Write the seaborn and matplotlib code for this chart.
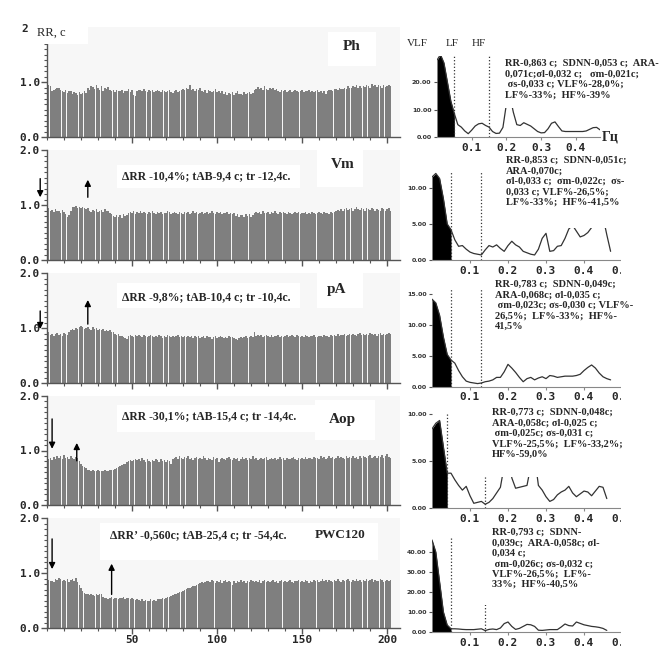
import numpy as np
import pandas as pd
import matplotlib
matplotlib.use("Agg")
import matplotlib.pyplot as plt
from matplotlib.patches import Rectangle
from matplotlib.ticker import MultipleLocator
import seaborn as sns

W, H = 670, 653

# RR intervals per beat, in hundredths of a second
rr_ph = [95, 93, 84, 85, 88, 90, 89, 85, 84, 82, 86,
         80, 83, 84, 79, 82, 80, 76, 82, 78, 80, 83, 80,
         90, 86, 93, 91, 88, 94, 90, 86, 92, 84, 90, 88, 91, 86,
         83, 85, 82, 86, 84, 83, 86, 80, 84, 83, 87, 82, 85, 77,
         75, 84, 86, 85, 83, 87, 84, 82, 86, 84, 85, 81, 83, 86, 84, 82, 85, 83, 81, 84, 86, 82, 80, 83, 85, 82, 84,
         86, 88, 85, 89, 87, 95, 86, 88, 84, 87, 85, 89,
         84, 82, 86, 80, 85, 83, 81, 84, 87, 82, 84, 80, 83,
         78, 82, 76, 80, 79, 81, 77, 80, 83, 78, 79, 76, 81, 78, 80, 82, 79, 80,
         86, 88, 91, 87, 90, 85, 92, 88, 86, 90, 87, 89, 85, 88,
         84, 82, 86, 83, 85, 81, 84, 86, 82, 83, 85, 84, 81, 83, 86, 82, 84, 83, 85, 82, 84, 81, 83, 85, 82, 84, 80, 83, 78,
         83, 85, 86, 84, 88, 87, 86, 89, 88, 87, 90, 88, 92, 90, 89, 93, 91, 94, 90, 92, 89, 93, 91, 95, 92, 90, 96, 93,
         94, 91, 95, 92, 90, 94, 91, 93, 95, 92]

rr_vm = [95, 90, 91, 88, 92, 89, 90, 86, 91, 88, 84, 78, 82,
         90, 97, 96, 98, 95, 97, 94, 96, 95, 93, 94,
         90, 88, 91, 89, 92, 87, 90, 91, 88, 92, 89, 90, 86,
         84, 80, 78, 82, 79, 81, 77, 83, 80, 82,
         86, 88, 85, 90, 84, 87, 86, 89, 85, 88, 86, 84, 87, 85, 89, 86, 83, 87, 85, 88, 84, 86, 85, 90, 87, 84, 86,
         88, 85, 83, 87, 86, 84, 88, 85, 87, 84, 86, 89, 85, 87, 84, 86, 88, 83, 85, 87, 84, 86, 90, 85, 83, 87, 85,
         88, 84, 86, 85, 87, 84, 86, 83, 85,
         80, 83, 79, 82, 81, 78, 83, 80, 84, 79, 82,
         86, 88, 85, 87, 84, 89, 86, 85, 88, 84, 87, 85, 90, 86, 84, 87, 85, 88, 86, 84, 87, 85, 83, 86, 88, 85, 87,
         84, 86, 85, 88, 84, 86, 83, 87, 85, 84, 86, 88, 85, 84, 87, 85, 86, 84, 88, 86,
         88, 90, 91, 89, 93, 90, 92, 95, 91, 93, 94, 90, 92, 96, 93, 91, 94, 92, 90, 95, 93, 91, 94, 92, 89, 93, 91,
         90, 94, 92, 89, 93, 95, 90]

rr_pa = [92, 88, 90, 85, 89, 91, 87, 90, 86, 91, 89, 88, 93,
         96, 98, 97, 100, 99, 102, 103, 101, 98, 100, 102, 99, 97, 101, 98, 100, 96, 99, 97, 98, 95, 97, 94, 96,
         93, 92, 90, 88, 89, 86, 85, 83, 82, 80,
         85, 88, 86, 84, 87, 85, 88, 86, 83, 87, 85, 84, 86, 88, 85, 83, 86, 84, 87, 85, 82, 86, 84, 88, 85, 83, 86,
         84, 85, 87, 83, 86, 84, 85, 83,
         86, 84, 85, 82, 86, 83, 85, 81, 84, 86, 82, 85, 83, 84, 80, 83, 85, 82, 84, 86, 83, 81, 84, 82, 85, 83, 84, 82,
         80, 78, 82, 84, 81, 83, 85, 82, 84, 86, 83,
         92, 86, 88, 85, 87, 84, 86, 88, 85, 83, 87, 84, 86, 85, 88, 84, 86, 83, 85, 87, 84, 86, 88, 85, 84, 87, 85,
         83, 86, 84, 88, 85, 84, 86, 85, 87, 84, 83, 86, 85, 84, 87, 85, 86, 84, 88, 86, 87, 85, 89, 86, 88, 87, 90,
         86, 88, 89, 87, 90, 88, 86, 89, 91, 87, 89, 88, 90, 87, 91, 89, 88, 90, 86, 89, 91, 88, 90, 87, 89, 91, 90]

rr_aop = [84, 86, 83, 88, 85, 90, 87, 89, 84, 91, 86, 88, 85, 89, 87, 84, 88, 86,
          80, 76, 72, 69, 67,
          65, 64, 63, 64, 62, 63, 64, 62, 63, 63, 64, 62, 63, 64, 65, 64,
          66, 68, 70, 71, 73, 75, 76, 78, 80, 82, 81, 83,
          85, 82, 84, 80, 86, 83, 79, 84, 81, 78, 83, 80, 85, 82, 79, 84, 81, 83, 78, 82, 80, 76, 84,
          86, 88, 85, 89, 87, 84, 88, 86, 90, 85, 87, 83, 86, 88, 84, 87, 85, 89, 86, 82, 87, 85, 83, 88, 84, 86, 79,
          85, 87, 84, 82, 86, 88, 85, 83, 87, 84, 86, 81, 85, 88, 84, 86, 83, 87, 85, 89, 84, 86, 82, 85, 87, 84, 86,
          88, 83, 85, 87, 84, 86, 82, 85, 88, 84, 86, 83, 87, 85, 84, 86, 88, 85, 83, 87, 85, 86, 84, 88, 85, 87, 86,
          84, 88, 86, 87, 85, 89, 86, 88, 84, 87, 89, 86, 88, 85, 87, 90, 86, 88, 87, 85, 89, 87, 88, 86, 90, 87, 88,
          85, 89, 87, 90, 88, 86, 89, 91, 87, 88, 90, 86, 89, 88, 91, 87, 89, 93, 88, 86]

rr_pwc = [88, 85, 86, 84, 90, 87, 91, 89, 85, 88, 86, 90, 84, 87, 89, 86, 91,
          84, 78, 72, 68,
          64, 62, 61, 60, 62, 60, 59, 61, 60, 62, 61,
          56, 54, 55, 53, 54, 56, 53, 55, 54, 53, 55, 54, 56, 53, 54, 55, 52, 54, 53, 51, 52,
          51, 50, 52, 49, 51, 50, 49, 52, 50, 51, 49, 52, 53, 52, 54, 53, 55,
          56, 57, 58, 60, 61, 62, 64, 65, 66, 68, 69, 71, 72, 73, 75, 76, 77, 79, 80, 81, 83, 82, 84, 85,
          86, 83, 87, 85, 82, 86, 84, 88, 81, 85, 87, 83, 86, 84, 79, 85, 82, 86, 84, 87, 83, 85, 81, 86, 84, 88, 85,
          83, 86, 84, 87, 82, 85, 88, 84, 86, 83, 85, 87, 84, 86, 82, 85, 88, 84, 86, 83, 85, 87, 84, 82, 86, 85, 88,
          84, 86, 83, 87, 85, 82, 86, 84, 88, 85, 87, 83, 86, 89, 85, 87, 84, 88, 86, 83, 87, 85, 89, 86, 84, 88, 85,
          87, 90, 86, 84, 88, 86, 89, 85, 87, 84, 88, 86, 90, 85, 87, 89, 84, 88, 86, 85, 89, 87, 84, 86, 88, 85, 87]

# spectral power, one value every 0.01 Hz starting at 0
sp_ph = [28, 30, 27, 20, 13, 8.5, 4.5, 3.6, 2.2, 1.2, 2.5, 4.0, 4.8, 5.0, 4.2, 3.6, 2.0, 1.3, 1.4, 3.5,
         12, 15, 9, 4.5, 4.2, 5.2, 4.6, 4.0, 3.0, 2.0, 1.5, 1.6, 3.0, 5.0, 5.5, 3.8, 2.2, 2.0, 2.0, 2.0,
         2.0, 2.0, 2.0, 2.2, 2.8, 3.4, 3.5, 2.6]
sp_vm = [11.5, 12.0, 11.3, 8.5, 5.0, 4.2, 2.8, 1.9, 2.0, 1.5, 1.1, 0.9, 0.8, 0.7, 1.4, 2.0, 1.8, 2.1, 1.6, 1.2,
         2.0, 2.6, 2.1, 1.8, 1.2, 1.0, 0.8, 0.7, 1.5, 3.0, 3.7, 1.2, 1.3, 1.9, 2.0, 3.0, 4.3, 4.8, 4.0, 3.2,
         3.4, 3.8, 4.5, 5.2, 6.5, 6.0, 3.5, 1.2]
sp_pa = [14.1, 13.5, 11.5, 8.0, 5.2, 4.3, 3.8, 2.6, 1.6, 0.9, 0.7, 0.6, 0.5, 0.6, 0.8, 0.9, 1.1, 1.5, 1.5, 2.4,
         3.6, 3.0, 2.3, 1.5, 0.8, 1.3, 1.5, 1.1, 1.4, 1.6, 1.3, 1.8, 1.7, 1.5, 1.6, 1.7, 1.7, 1.7, 1.8, 2.0,
         2.6, 3.1, 3.5, 3.0, 2.2, 1.6, 1.3, 1.1]
sp_aop = [8.4, 9.0, 9.3, 6.5, 3.7, 3.7, 3.0, 2.4, 1.9, 2.3, 1.3, 0.5, 0.6, 0.7, 0.4, 0.6, 1.0, 1.6, 2.2, 4.5,
          6.0, 3.2, 2.1, 2.2, 2.3, 2.4, 4.5, 5.5, 2.4, 1.9, 1.2, 0.7, 0.9, 1.4, 1.7, 1.9, 2.3, 1.6, 1.2, 1.5,
          1.8, 1.7, 1.3, 1.8, 2.3, 2.2, 1.0]
sp_pwc = [46, 40, 25, 10, 3.5, 1.6, 1.6, 1.5, 1.3, 1.2, 1.2, 1.2, 1.4, 1.6, 0.7, 1.3, 1.5, 1.2, 2.0, 4.2,
          5.0, 2.8, 1.3, 1.8, 2.8, 3.8, 3.6, 2.8, 0.9, 0.8, 1.0, 1.2, 1.2, 1.2, 2.5, 4.0, 3.2, 3.0, 5.0, 4.3,
          3.6, 3.2, 2.8, 2.6, 2.3, 1.8, 0.8]

test_names = ["Ph", "Vm", "pA", "Aop", "PWC120"]

reaction_texts = [
    None,
    "\u0394RR -10,4%; tAB-9,4 c; tr -12,4c.",
    "\u0394RR -9,8%; tAB-10,4 c; tr -10,4c.",
    "\u0394RR -30,1%; tAB-15,4 c; tr -14,4c.",
    "\u0394RR\u2019 -0,560c; tAB-25,4 c; tr -54,4c.",
]

hrv_texts = [
    "RR-0,863 c;  SDNN-0,053 c;  ARA-\n0,071c;\u03c3l-0,032 c;   \u03c3m-0,021c;\n \u03c3s-0,033 c; VLF%-28,0%;\nLF%-33%;  HF%-39%",
    "RR-0,853 c;  SDNN-0,051c;\nARA-0,070c;\n\u03c3l-0,033 c;  \u03c3m-0,022c;  \u03c3s-\n0,033 c; VLF%-26,5%;\nLF%-33%;  HF%-41,5%",
    "RR-0,783 c;  SDNN-0,049c;\nARA-0,068c; \u03c3l-0,035 c;\n \u03c3m-0,023c; \u03c3s-0,030 c; VLF%-\n26,5%;  LF%-33%;  HF%-\n41,5%",
    "RR-0,773 c;  SDNN-0,048c;\nARA-0,058c; \u03c3l-0,025 c;\n \u03c3m-0,025c; \u03c3s-0,031 c;\nVLF%-25,5%;  LF%-33,2%;\nHF%-59,0%",
    "RR-0,793 c;  SDNN-\n0,039c;  ARA-0,058c; \u03c3l-\n0,034 c;\n \u03c3m-0,026c; \u03c3s-0,032 c;\nVLF%-26,5%;  LF%-\n33%;  HF%-40,5%",
]

# arrows (beat, start RR, end RR): onset (down) and recovery (up)
down_arrows = [None, (-4, 1.53, 1.09), (-4, 1.36, 0.93), (3, 1.63, 0.98), (3, 1.67, 1.02)]
up_arrows = [None, (24, 1.09, 1.51), (24, 1.02, 1.56), (17.5, 0.76, 1.19), (38, 0.56, 1.22)]

spec_ymax = [29.5, 12.2, 15.9, 10.2, 48]
spec_yticks = [[0, 10, 20], [0, 5, 10], [0, 5, 10, 15], [0, 5, 10], [0, 10, 20, 30, 40]]
lf_edge = [0.05, 0.05, 0.05, 0.04, 0.05]
hf_edge = [0.15, 0.13, 0.13, 0.14, 0.14]

sns.set_style("ticks")
serif = ["Liberation Serif", "DejaVu Serif"]
mono = ["DejaVu Sans Mono"]

fig = plt.figure(figsize=(W / 100, H / 100), dpi=100)


def rect(x0, x1, ytop, ybot):
    return [x0 / W, 1 - ybot / H, (x1 - x0) / W, (ybot - ytop) / H]


def fig_box(x0, x1, ytop, ybot, z=5):
    fig.add_artist(Rectangle((x0 / W, 1 - ybot / H), (x1 - x0) / W, (ybot - ytop) / H,
                             transform=fig.transFigure, facecolor="white",
                             edgecolor="none", zorder=z))


def fig_text(x, y, s, **kw):
    kw.setdefault("zorder", 6)
    fig.text(x / W, 1 - y / H, s, transform=fig.transFigure, **kw)


left_rows = [(137, 27), (260, 150), (383, 273), (505, 396), (628, 518)]
right_rows = [(137, 56, 437, 0.47), (260, 172, 432, 0.5), (386.7, 288, 432, 0.5),
              (508, 412, 432, 0.5), (632, 536, 432, 0.5)]
rr_all = [rr_ph, rr_vm, rr_pa, rr_aop, rr_pwc]
sp_all = [sp_ph, sp_vm, sp_pa, sp_aop, sp_pwc]

for i in range(5):
    # ---- RR interval bar chart
    y0, y2 = left_rows[i]
    ax = fig.add_axes(rect(47, 400, y2, y0))
    ax.set_facecolor("#f7f7f7")
    df = pd.DataFrame({"beat": np.arange(1, len(rr_all[i]) + 1),
                       "rr": np.array(rr_all[i]) / 100})
    sns.barplot(data=df, x="beat", y="rr", native_scale=True, color="#7f7f7f",
                saturation=1, width=0.9, errorbar=None, linewidth=0, ax=ax)
    ax.set_xlim(0, 207.6)
    ax.set_ylim(0, 2)
    ax.set_xlabel("")
    ax.set_ylabel("")
    for s in ["top", "right"]:
        ax.spines[s].set_visible(False)
    for s in ["left", "bottom"]:
        ax.spines[s].set_color("#555555")
        ax.spines[s].set_linewidth(1)
    ax.set_yticks([0, 1, 2])
    ax.set_yticklabels(["0.0", "1.0", "" if i == 0 else "2.0"])
    ax.yaxis.set_minor_locator(MultipleLocator(0.1))
    ax.set_xticks([50, 100, 150, 200])
    ax.xaxis.set_minor_locator(MultipleLocator(10))
    ax.tick_params(which="major", length=4, width=1, color="#555555", pad=1)
    ax.tick_params(which="minor", length=2, width=0.8, color="#555555")
    for lab in ax.get_yticklabels() + ax.get_xticklabels():
        lab.set_family(mono)
        lab.set_fontweight("bold")
        lab.set_fontsize(8)
    if i < 4:
        ax.tick_params(axis="x", labelbottom=False)
    ax.grid(False)

    if down_arrows[i] is not None:
        bx, ya, yb = down_arrows[i]
        ax.annotate("", xy=(bx, yb), xytext=(bx, ya), annotation_clip=False,
                    arrowprops=dict(arrowstyle="-|>", color="black", lw=1, mutation_scale=9))
        bx, ya, yb = up_arrows[i]
        ax.annotate("", xy=(bx, yb), xytext=(bx, ya), annotation_clip=False,
                    arrowprops=dict(arrowstyle="-|>", color="black", lw=1, mutation_scale=9))

    # ---- spectrum
    sy0, sytop, sx0, xmax = right_rows[i]
    px_per = 347 if i == 0 else 380
    sx = fig.add_axes(rect(sx0, sx0 + xmax * px_per, sytop, sy0))
    sp = np.array(sp_all[i], dtype=float)
    sdf = pd.DataFrame({"f": np.arange(len(sp)) * 0.01, "p": sp})
    sns.lineplot(data=sdf, x="f", y="p", color="#333333", lw=0.9, ax=sx)
    vlf = sdf[sdf["f"] <= lf_edge[i] + 1e-9]
    sx.fill_between(vlf["f"], 0, vlf["p"], color="black", lw=0)
    sx.axvline(lf_edge[i], color="#333333", ls=":", lw=0.9)
    sx.axvline(hf_edge[i], color="#333333", ls=":", lw=0.9)
    sx.set_xlim(0, xmax)
    sx.set_ylim(0, spec_ymax[i])
    sx.set_xlabel("")
    sx.set_ylabel("")
    for s in ["top", "right", "left"]:
        sx.spines[s].set_visible(False)
    sx.spines["bottom"].set_color("#888888")
    sx.set_facecolor("white")
    xt = [0.1, 0.2, 0.3, 0.4] if i == 0 else [0.1, 0.2, 0.3, 0.4, 0.5]
    sx.set_xticks(xt)
    sx.set_xticklabels([f"{t:.1f}" for t in xt])
    sx.set_yticks(spec_yticks[i])
    sx.set_yticklabels([f"{t:.2f}" for t in spec_yticks[i]])
    sx.tick_params(axis="x", length=2, color="#888888", pad=2)
    sx.tick_params(axis="y", length=2, color="#555555", pad=2, labelsize=4.5)
    for lab in sx.get_xticklabels():
        lab.set_family(mono)
        lab.set_fontweight("bold")
        lab.set_fontsize(8)
    for lab in sx.get_yticklabels():
        lab.set_fontweight("bold")
        lab.set_color("#333333")
    sx.grid(False)

# crop of the original scan on the right edge
fig_box(621, 670, 140, 653, z=4)

# header row
fig_text(21, 29, "2", family=mono, fontsize=8, fontweight="bold", va="center")
fig_box(31, 88, 22, 44)
fig_text(37, 33, "RR, c", family=serif, fontsize=9, va="center")
fig_box(400, 497, 33, 55)
fig_text(417, 44, "VLF", family=serif, fontsize=8, va="center", ha="center")
fig_text(452, 44, "LF", family=serif, fontsize=8, va="center", ha="center")
fig_text(479, 44, "HF", family=serif, fontsize=8, va="center", ha="center")
fig_text(610, 137, "\u0413\u0446", family=serif, fontsize=10, fontweight="bold",
         va="center", ha="center")

# test name boxes
name_pos = [(352, 47, 328, 376, 32, 66), (343, 165, 317, 363, 150, 187),
            (337, 289, 317, 363, 272, 308), (342, 420, 315, 375, 400, 440),
            (340, 535, 310, 378, 523, 560)]
react_pos = [None, (122, 176, 117, 300, 165, 188), (122, 297, 117, 300, 283, 308),
             (122, 416, 117, 315, 405, 432), (110, 535, 100, 310, 523, 560)]
hrv_pos = [(505, 59, 503, 668, 57, 108), (506, 156, 497, 640, 153, 228),
           (495, 280, 488, 625, 278, 355), (492, 408, 483, 640, 402, 477),
           (492, 528, 483, 622, 522, 605)]

for i in range(5):
    tx, ty, bx0, bx1, by0, by1 = name_pos[i]
    fig_box(bx0, bx1, by0, by1)
    fig_text(tx, ty, test_names[i], family=serif, fontweight="bold",
             fontsize=11 if i < 4 else 9.5, va="center", ha="center")
    if react_pos[i] is not None:
        tx, ty, bx0, bx1, by0, by1 = react_pos[i]
        fig_box(bx0, bx1, by0, by1)
        fig_text(tx, ty, reaction_texts[i], family=serif, fontweight="bold",
                 fontsize=8.5, va="center")
    tx, ty, bx0, bx1, by0, by1 = hrv_pos[i]
    fig_box(bx0, bx1, by0, by1)
    fig_text(tx, ty, hrv_texts[i], family=serif, fontweight="bold", fontsize=7.5,
             va="top", linespacing=1.2)

fig.savefig("out.png", dpi=100)
